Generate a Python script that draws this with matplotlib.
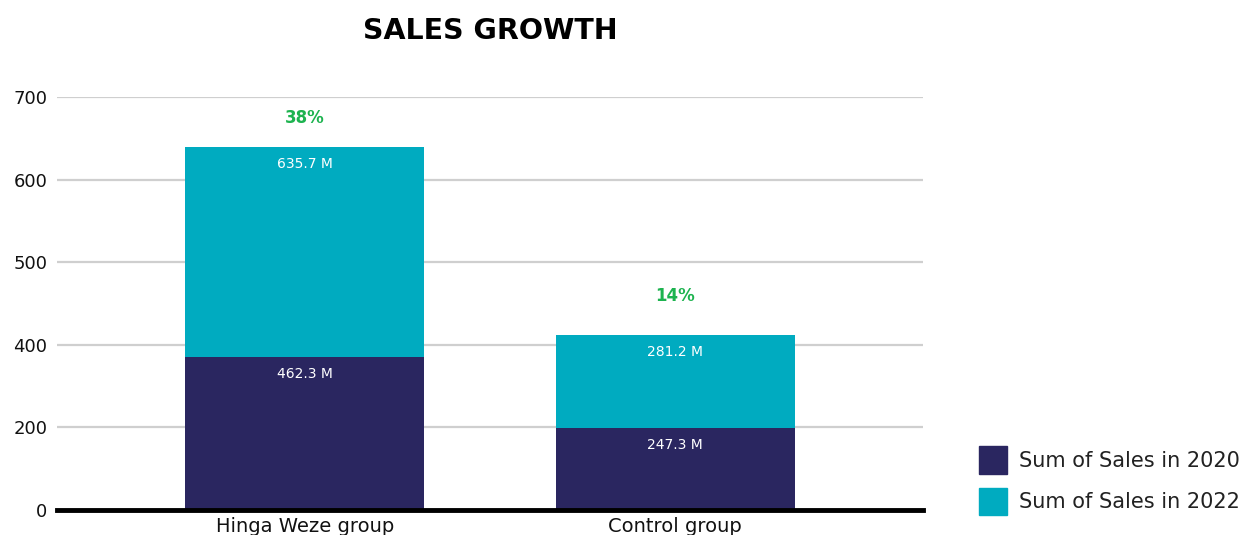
import matplotlib.pyplot as plt
import matplotlib.patches as mpatches

groups = ["Hinga Weze group", "Control group"]
sales_2020 = [462.3, 247.3]
sales_2022 = [635.7, 281.2]
y_ticks = [0, 250, 500, 750, 1000, 1250]
y_tick_labels = ["0", "200", "400", "500", "600", "700"]
series_names = ["Sum of Sales in 2020", "Sum of Sales in 2022"]

NAVY = "#2A2660"
TEAL = "#00ABC0"
GREEN = "#1DB34F"

plt.rcParams['font.family'] = ['DejaVu Sans']

fig = plt.figure(figsize=(12.44, 5.35), dpi=100)
ax = fig.add_axes([57 / 1244, 25 / 535, 866 / 1244, 413 / 535])

x = list(range(len(groups)))
width = 0.646
ax.bar(x, sales_2020, width=width, color=NAVY, zorder=3)
ax.bar(x, sales_2022, width=width, bottom=sales_2020, color=TEAL, zorder=3)

# value labels near the top of each segment
for i in x:
    ax.annotate(f"{sales_2020[i]} M", (i, sales_2020[i]), xytext=(0, -12),
                textcoords="offset points", ha="center", va="center",
                color="white", fontsize=10, zorder=4)
    top = sales_2020[i] + sales_2022[i]
    ax.annotate(f"{sales_2022[i]} M", (i, top), xytext=(0, -12),
                textcoords="offset points", ha="center", va="center",
                color="white", fontsize=10, zorder=4)

# growth from 2020 to 2022 above each bar
pct_offsets = [21, 28]
for i in x:
    pct = (sales_2022[i] - sales_2020[i]) / sales_2020[i] * 100
    top = sales_2020[i] + sales_2022[i]
    ax.annotate(f"{pct:.0f}%", (i, top), xytext=(0, pct_offsets[i]),
                textcoords="offset points", ha="center", va="center",
                color=GREEN, fontsize=12, fontweight="bold", annotation_clip=False)

ax.set_xlim(-0.67, 1.67)
ax.set_ylim(0, 1250)
ax.set_yticks(y_ticks)
ax.set_yticklabels(y_tick_labels)
ax.set_xticks(x)
ax.set_xticklabels(groups)
ax.tick_params(axis="both", length=0, colors="#111111")
ax.tick_params(axis="y", pad=7, labelsize=13)
ax.tick_params(axis="x", pad=5, labelsize=14)
ax.grid(axis="y", color="#CFCFCF", linewidth=1.6, zorder=0)

for side in ["top", "right", "left"]:
    ax.spines[side].set_visible(False)
ax.spines["bottom"].set_linewidth(3.5)
ax.spines["bottom"].set_color("black")
ax.spines["bottom"].set_zorder(5)

fig.text(490 / 1244, 1 - 31 / 535, "SALES GROWTH", ha="center", va="center",
         fontsize=20.5, fontweight="bold", color="black")

handles = [mpatches.Patch(color=NAVY, label=series_names[0]),
           mpatches.Patch(color=TEAL, label=series_names[1])]
fig.legend(handles=handles, loc="lower left", bbox_to_anchor=(960 / 1244, 1 / 535),
           frameon=False, fontsize=15, handlelength=1.35, handleheight=1.65,
           labelspacing=0.68, handletextpad=0.6, labelcolor="#222222")

fig.savefig("out.png", dpi=100)
